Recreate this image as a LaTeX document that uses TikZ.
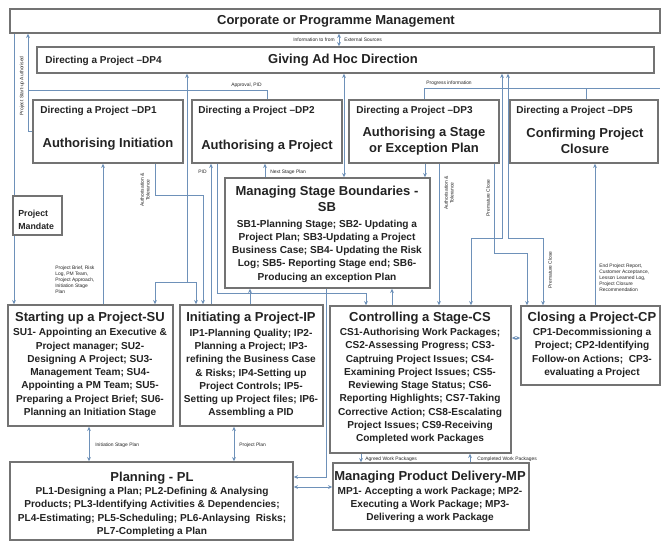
\documentclass[tikz,border=0pt]{standalone}
\usepackage{fontspec}
\setmainfont{Liberation Sans}
\usetikzlibrary{fit,arrows.meta}
\definecolor{ln}{RGB}{110,145,185}
\definecolor{bx}{RGB}{115,115,115}
\definecolor{tx}{RGB}{35,35,35}
\begin{document}
\begin{tikzpicture}[x=0.02cm,y=-0.02cm,
  box/.style={draw=bx, line width=0.9pt, fill=white, inner sep=0pt},
  con/.style={draw=ln, line width=0.45pt},
  arr/.style={con, -{Stealth[length=2.4pt,width=2.2pt]}},
  darr/.style={con, {Stealth[length=2.4pt,width=2.2pt]}-{Stealth[length=2.4pt,width=2.2pt]}},
  ttl/.style={font=\fontsize{7.4}{9.4}\selectfont\bfseries, text=tx, inner sep=0pt, align=center},
  bod/.style={font=\fontsize{5.75}{7.55}\selectfont\bfseries, text=tx, inner sep=0pt, align=center},
  dptag/.style={font=\fontsize{5.7}{6.8}\selectfont\bfseries, text=tx, inner sep=0pt, anchor=west},
  lab/.style={font=\fontsize{2.8}{3.3}\selectfont, text=tx, inner sep=0pt}
]
\fill[white] (0,0) rectangle (662,542);
\path[use as bounding box] (0,0) rectangle (662,542);

% boxes
\node[box, fit={(10,9)(660,33)}] (corp) {};
\node[box, fit={(37,47)(654,73)}] (dp4) {};
\node[box, fit={(33,100)(183,163)}] (dp1) {};
\node[box, fit={(192,100)(342,163)}] (dp2) {};
\node[box, fit={(349,100)(499,163)}] (dp3) {};
\node[box, fit={(510,100)(658,163)}] (dp5) {};
\node[box, fit={(225,178)(430,288)}] (sb) {};
\node[box, fit={(8,305)(173,426)}] (su) {};
\node[box, fit={(180,305)(323,426)}] (ip) {};
\node[box, fit={(330,306)(511,453)}] (cs) {};
\node[box, fit={(521,306)(660,385)}] (cp) {};
\node[box, fit={(10,462)(293,540)}] (pl) {};
\node[box, fit={(333,463)(529,530)}] (mp) {};

% texts
\node[ttl] (tcorp) at (336,21) {Corporate or Programme Management};
\node[dptag] (tdp4a) at (45,61) {Directing a Project –DP4};
\node[ttl] (tdp4b) at (343,60) {Giving Ad Hoc Direction};
\node[dptag] (tdp1a) at (40,111) {Directing a Project –DP1};
\node[ttl] (tdp1b) at (108,144) {Authorising Initiation};
\node[dptag] (tdp2a) at (198,111) {Directing a Project –DP2};
\node[ttl] (tdp2b) at (267,146) {Authorising a Project};
\node[dptag] (tdp3a) at (356,111) {Directing a Project –DP3};
\node[ttl] (tdp3b) at (424,141) {Authorising a Stage\\or Exception Plan};
\node[dptag] (tdp5a) at (516,111) {Directing a Project –DP5};
\node[ttl] (tdp5b) at (585,141) {Confirming Project\\Closure};

\node[ttl] (tsb) at (327,199) {Managing Stage Boundaries -\\SB};
\node[bod] (bsb) at (327,251) {SB1-Planning Stage; SB2- Updating a\\Project Plan; SB3-Updating a Project\\Business Case; SB4- Updating the Risk\\Log; SB5- Reporting Stage end; SB6-\\Producing an exception Plan};

\node[ttl] (tsu) at (90,318) {Starting up a Project-SU};
\node[bod] (bsu) at (90,373) {SU1- Appointing an Executive \&\\Project manager; SU2-\\Designing A Project; SU3-\\Management Team; SU4-\\Appointing a PM Team; SU5-\\Preparing a Project Brief; SU6-\\Planning an Initiation Stage};

\node[ttl] (tip) at (251,318) {Initiating a Project-IP};
\node[bod] (bip) at (251,373.5) {IP1-Planning Quality; IP2-\\Planning a Project; IP3-\\refining the Business Case\\\& Risks; IP4-Setting up\\Project Controls; IP5-\\Setting up Project files; IP6-\\Assembling a PID};

\node[ttl] (tcs) at (420,318) {Controlling a Stage-CS};
\node[bod] (bcs) at (420,386) {CS1-Authorising Work Packages;\\CS2-Assessing Progress; CS3-\\Captruing Project Issues; CS4-\\Examining Project Issues; CS5-\\Reviewing Stage Status; CS6-\\Reporting Highlights; CS7-Taking\\Corrective Action; CS8-Escalating\\Project Issues; CS9-Receiving\\Completed work Packages};

\node[ttl] (tcp) at (592,318) {Closing a Project-CP};
\node[bod] (bcp) at (592,353) {CP1-Decommissioning a\\Project; CP2-Identifying\\Follow-on Actions;\ \ CP3-\\evaluating a Project};

\node[ttl] (tpl) at (152,478) {Planning - PL};
\node[bod] (bpl) at (152,512) {PL1-Designing a Plan; PL2-Defining \& Analysing\\Products; PL3-Identifying Activities \& Dependencies;\\PL4-Estimating; PL5-Scheduling; PL6-Anlaysing\ \ Risks;\\PL7-Completing a Plan};

\node[ttl] (tmp) at (430,477) {Managing Product Delivery-MP};
\node[bod] (bmp) at (430,505) {MP1- Accepting a work Package; MP2-\\Executing a Work Package; MP3-\\Delivering a work Package};

% connectors
\draw[darr] (339,0 |- corp.south) -- (339,0 |- dp4.north);
\node[lab, anchor=east] (l1) at (335,40) {Information to from};
\node[lab, anchor=west] (l2) at (344,40) {External Sources};

\draw[arr] (14,0 |- corp.south) -- (14,0 |- su.north);
\draw[arr] (dp1.west |- 0,131) -- (28,131) -- (28,0 |- corp.south);
\node[lab, rotate=90] (l3) at (22,86) {Project Start-up Authorised};
\draw[con] (267,0 |- dp2.north) -- (267,90) -- (28,90);
\node[lab, anchor=south east] (l4) at (262,88) {Approval, PID};

\draw[con] (424,0 |- dp3.north) -- (424,88) -- (660,88);
\draw[con] (586,0 |- dp5.north) -- (586,88);
\node[lab, anchor=south west] (l5) at (426,86) {Progress information};

\draw[arr] (187,282) -- (187,0 |- dp4.south);
\draw[arr] (187,282) -| (155,0 |- su.north);
\draw[arr] (187,282) -| (196,0 |- ip.north);

\draw[arr] (103,0 |- su.north) -- (103,0 |- dp1.south);
\node[lab, anchor=north west, align=left] (l6) at (55,266) {Project Brief, Risk\\Log, PM Team,\\Project Approach,\\Initiation Stage\\Plan};

\draw[arr] (155,0 |- dp1.south) -- (155,195) -- (203,195) -- (203,0 |- ip.north);
\node[lab, rotate=90, align=center] (l7) at (145,190) {Authorisation \&\\Tolerance};

\draw[arr] (211,0 |- ip.north) -- (211,0 |- dp2.south);
\node[lab, anchor=east] (l8) at (207,172) {PID};
\draw[arr] (217,0 |- dp2.south) -- (217,293) -| (366,0 |- cs.north);

\draw[arr] (265,0 |- sb.north) -- (265,0 |- dp2.south);
\node[lab, anchor=west] (l9) at (270,172) {Next Stage Plan};
\draw[darr] (344,0 |- dp4.south) -- (344,0 |- sb.north);
\draw[arr] (425,0 |- dp3.south) -- (425,0 |- sb.north);
\draw[arr] (250,0 |- ip.north) -- (250,0 |- sb.south);
\draw[arr] (392,0 |- cs.north) -- (392,0 |- sb.south);
\draw[arr] (326,0 |- sb.south) -- (326,477) -- (pl.east |- 0,477);
\draw[darr] (pl.east |- 0,487) -- (mp.west |- 0,487);

\draw[arr] (439,0 |- dp3.south) -- (439,0 |- cs.north);
\node[lab, rotate=90, align=center] (l10) at (449,193) {Authorisation \&\\Tolerance};
\draw[darr] (502,0 |- dp4.south) -- (502,238) -| (471,0 |- cs.north);
\draw[darr] (508,0 |- dp4.south) -- (508,238) -| (543,0 |- cp.north);
\draw[arr] (494,0 |- dp3.south) -- (494,253) -| (527,0 |- cp.north);
\node[lab, rotate=90] (l11) at (488,198) {Premature Close};
\node[lab, rotate=90] (l12) at (550,270) {Premature Close};

\draw[darr] (cs.east |- 0,338) -- (cp.west |- 0,338);
\draw[arr] (595,0 |- cp.north) -- (595,0 |- dp5.south);
\node[lab, anchor=north west, align=left] (l13) at (599,264) {End Project Report,\\Customer Acceptance,\\Lesson Learned Log,\\Project Closure\\Recommendation};

\draw[darr] (89,0 |- su.south) -- (89,0 |- pl.north);
\node[lab, anchor=west] (l14) at (95,445) {Initiation Stage Plan};
\draw[darr] (234,0 |- ip.south) -- (234,0 |- pl.north);
\node[lab, anchor=west] (l15) at (239,445) {Project Plan};
\draw[arr] (361,0 |- cs.south) -- (361,0 |- mp.north);
\node[lab, anchor=west] (l16) at (365,459) {Agreed Work Packages};
\draw[arr] (470,0 |- mp.north) -- (470,0 |- cs.south);
\node[lab, anchor=west] (l17) at (477,459) {Completed Work Packages};

% project mandate box on top of its line
\node[box, line width=0.7pt, fit={(13,196)(62,235)}] (mand) {};
\node[font=\fontsize{5}{7.5}\selectfont\bfseries, text=tx, inner sep=0pt, align=left, anchor=west] (tmand) at (18,220) {Project\\Mandate};
\end{tikzpicture}
\end{document}
